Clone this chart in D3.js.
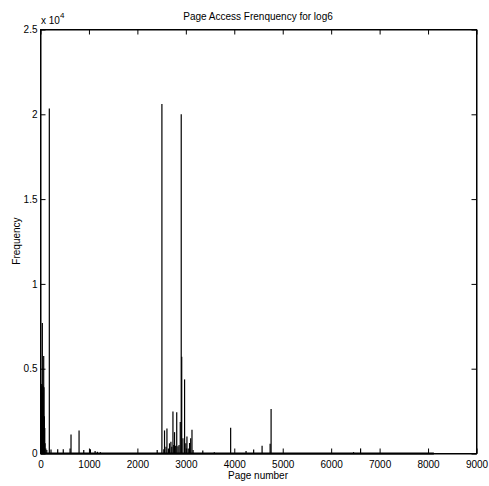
<!DOCTYPE html>
<html>
<head>
<meta charset="utf-8">
<script src="https://cdn.jsdelivr.net/npm/d3@7"></script>
<style>
body { margin: 0; background: #fff; }
svg text { font-family: "Liberation Sans", Arial, Helvetica, sans-serif; font-size: 10px; fill: #000; }
.axis path, .axis line { stroke: #000; }
</style>
</head>
<body>
<svg></svg>
<script>
// page index of each visible spike and its access count
var pages = [5, 10, 15, 20, 25, 30, 38, 45, 52, 60, 66, 72, 80, 88, 95, 110, 130,
  182, 217, 355, 470, 610, 630, 796, 893, 1030, 1127, 1175, 1237, 2409,
  2506, 2545, 2560, 2590, 2610, 2640, 2663, 2692, 2710, 2734, 2750, 2767, 2790,
  2812, 2837, 2860, 2885, 2905, 2915, 2940, 2974, 3000, 3023, 3050, 3077, 3100,
  3127, 3150, 3350, 3588, 3925, 4243, 4400, 4574, 4740, 4760, 6462, 6607];
var hits = [3200, 4000, 2500, 3900, 4100, 3000, 7700, 3600, 4000, 2800, 5750, 3900, 2200, 1500, 600, 300, 200,
  20340, 240, 250, 250, 300, 1120, 1360, 200, 250, 150, 100, 80, 200,
  20600, 250, 1360, 400, 1480, 300, 600, 700, 400, 2480, 500, 1260, 450,
  2430, 430, 500, 1850, 20000, 5700, 900, 4370, 600, 1000, 300, 620, 900,
  1400, 200, 180, 80, 1520, 150, 240, 450, 580, 2630, 80, 300];
var lastPage = 8120;

var xTicks = [0, 1000, 2000, 3000, 4000, 5000, 6000, 7000, 8000, 9000];
var yTicks = [0, 5000, 10000, 15000, 20000, 25000];
var yTickLabels = ["0", "0.5", "1", "1.5", "2", "2.5"];

var W = 489, H = 486;
var margin = {top: 29, right: 13, bottom: 33, left: 40};
var width = W - margin.left - margin.right;
var height = H - margin.top - margin.bottom;

var root = d3.select("svg").attr("width", W).attr("height", H);
var svg = root.append("g")
    .attr("transform", "translate(" + (margin.left + 0.5) + "," + (margin.top + 0.5) + ")");

var x = d3.scaleLinear().domain([0, 9000]).range([0, width]);
var y = d3.scaleLinear().domain([0, 25000]).range([height, 0]);

// the trace: low level baseline then the spikes
svg.append("line")
    .attr("x1", x(0)).attr("x2", x(lastPage))
    .attr("y1", y(0)).attr("y2", y(0))
    .attr("stroke", "#000")
    .attr("stroke-width", 1.8);

svg.append("g")
    .selectAll("line")
    .data(pages)
  .enter()
  .append("line")
    .attr("x1", function(d) { return x(d); })
    .attr("x2", function(d) { return x(d); })
    .attr("y1", y(0))
    .attr("y2", function(d, i) { return y(hits[i]); })
    .attr("stroke", "#000")
    .attr("stroke-width", 1.2);

// axes, ticks pointing inward like matlab
svg.append("g")
    .attr("class", "axis")
    .attr("transform", "translate(0," + height + ")")
    .call(d3.axisBottom(x).tickValues(xTicks).tickSize(-5).tickSizeOuter(0).tickPadding(7)
      .tickFormat(d3.format("d")));

svg.append("g")
    .attr("class", "axis")
    .call(d3.axisTop(x).tickValues(xTicks).tickSize(-5).tickSizeOuter(0).tickFormat(""));

svg.append("g")
    .attr("class", "axis")
    .call(d3.axisLeft(y).tickValues(yTicks).tickSize(-5).tickSizeOuter(0).tickPadding(3)
      .tickFormat(function(d, i) { return yTickLabels[i]; }));

svg.append("g")
    .attr("class", "axis")
    .attr("transform", "translate(" + width + ",0)")
    .call(d3.axisRight(y).tickValues(yTicks).tickSize(-5).tickSizeOuter(0).tickFormat(""));

svg.selectAll(".axis text").style("font-size", "10px").attr("fill", "#000");

svg.append("rect")
    .attr("width", width)
    .attr("height", height)
    .attr("fill", "none")
    .attr("stroke", "#000");

// exponent marker
var expo = root.append("text")
    .attr("x", margin.left + 1)
    .attr("y", 24);
expo.append("tspan").text("x 10");
expo.append("tspan").attr("dy", -6).style("font-size", "8px").text("4");

root.append("text")
    .attr("x", margin.left + width / 2)
    .attr("y", 20)
    .style("text-anchor", "middle")
    .text("Page Access Frenquency for log6");

root.append("text")
    .attr("x", margin.left + width / 2)
    .attr("y", 479)
    .style("text-anchor", "middle")
    .text("Page number");

root.append("text")
    .attr("transform", "translate(20," + (margin.top + height / 2) + ") rotate(-90)")
    .style("text-anchor", "middle")
    .text("Frequency");
</script>
</body>
</html>
